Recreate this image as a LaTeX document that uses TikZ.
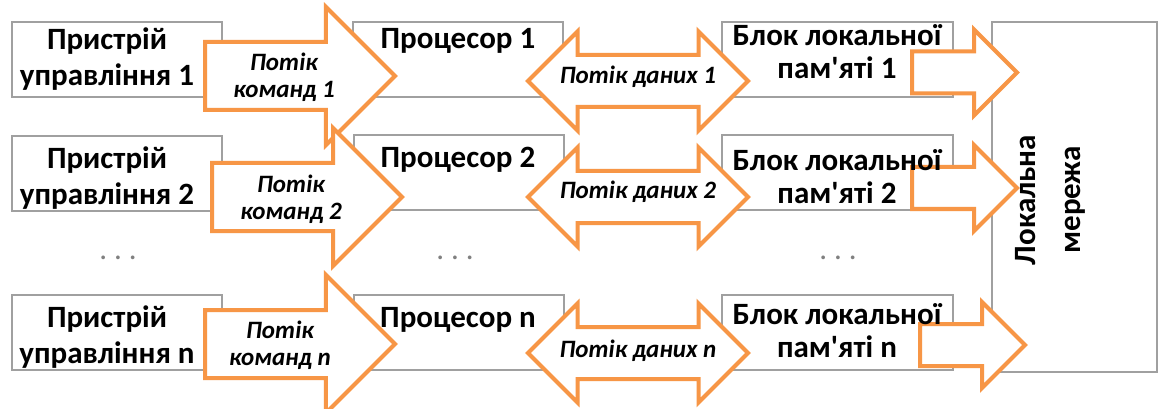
\documentclass[tikz,border=0pt]{standalone}
\usepackage{fontspec}
\setmainfont{Carlito}
\usetikzlibrary{shapes.arrows}

\definecolor{flow}{HTML}{F79646}
\definecolor{frame}{HTML}{A0A0A0}

\begin{document}
\begin{tikzpicture}[
  x=1pt, y=-1pt,
  box/.style={draw=frame, line width=2pt, fill=white, minimum width=210pt, minimum height=75pt},
  big/.style={font=\bfseries\fontsize{31}{36}\selectfont, align=center, inner sep=0pt},
  small/.style={font=\bfseries\itshape\fontsize{25}{27}\selectfont, align=center, inner sep=0pt},
  blockarrow/.style={draw=flow, line width=4pt, fill=white, inner xsep=0pt},
  cmd/.style={blockarrow, single arrow, anchor=tail, inner ysep=32pt,
    minimum height=190pt, single arrow head extend=35pt},
  data/.style={blockarrow, double arrow, inner ysep=24pt,
    minimum height=220pt, double arrow head extend=23.5pt},
  netarrow/.style={blockarrow, single arrow, anchor=tail, inner ysep=19pt,
    minimum height=105pt, single arrow head extend=22pt},
  dots/.style={text=gray, font=\fontsize{31}{36}\selectfont, anchor=base}
]
\fill[white] (0,0) rectangle (1160,409);
\useasboundingbox (0,0) rectangle (1160,409);

% boxes
\node[box] (ctrl1) at (117,59.5) {};
\node[box] (proc1) at (458,59.5) {};
\node[box, minimum width=231pt] (mem1) at (837.5,59.5) {};
\node[box] (ctrl2) at (117,173.5) {};
\node[box] (proc2) at (459,172.5) {};
\node[box, minimum width=231pt] (mem2) at (837.5,172.5) {};
\node[box] (ctrln) at (117,332.5) {};
\node[box] (procn) at (459,332.5) {};
\node[box, minimum width=231pt] (memn) at (837.5,332.5) {};
\node[box, minimum width=165pt, minimum height=350pt] (net) at (1074.5,197) {};

% command flows
\node[cmd] (cmd1) at (203,76) {};
\node[cmd] (cmd2) at (210,197) {};
\node[cmd] (cmdn) at (203,344) {};

% data flows
\node[data] (data1) at (638,81) {};
\node[data] (data2) at (638,197) {};
\node[data] (datan) at (638,353) {};

% to the network
\node[netarrow] (out1) at (910,72.5) {};
\node[netarrow] (out2) at (910,188) {};
\node[netarrow] (outn) at (918,345) {};

% texts
\node[big] (ctrl1-t) at (107,59) {Пристрій\\управління 1};
\node[big] (ctrl2-t) at (107,178) {Пристрій\\управління 2};
\node[big] (ctrln-t) at (107,337.5) {Пристрій\\управління n};
\node[big] (proc1-t) at (458,41) {Процесор 1};
\node[big] (proc2-t) at (458,160) {Процесор 2};
\node[big] (procn-t) at (458,320) {Процесор n};
\node[big, font=\bfseries\fontsize{31}{33}\selectfont] (mem1-t) at (837,52) {Блок локальної\\пам\textquotesingle яті 1};
\node[big, font=\bfseries\fontsize{31}{33}\selectfont] (mem2-t) at (837,177) {Блок локальної\\пам\textquotesingle яті 2};
\node[big, font=\bfseries\fontsize{31}{33}\selectfont] (memn-t) at (837,331) {Блок локальної\\пам\textquotesingle яті n};
\node[big, font=\bfseries\fontsize{31}{45}\selectfont, rotate=90] (net-t) at (1050,200) {Локальна\\мережа};

\node[small] (cmd1-t) at (284,77) {Потік\\команд 1};
\node[small] (cmd2-t) at (291,199) {Потік\\команд 2};
\node[small] (cmdn-t) at (280,345) {Потік\\команд n};
\node[small] (data1-t) at (638,77) {Потік даних 1};
\node[small] (data2-t) at (638,192) {Потік даних 2};
\node[small] (datan-t) at (638,351) {Потік даних n};

% gaps between rows
\node[dots] (gap1) at (118,259) {.\ .\ .};
\node[dots] (gap2) at (455,259) {.\ .\ .};
\node[dots] (gap3) at (838,259) {.\ .\ .};
\end{tikzpicture}
\end{document}
